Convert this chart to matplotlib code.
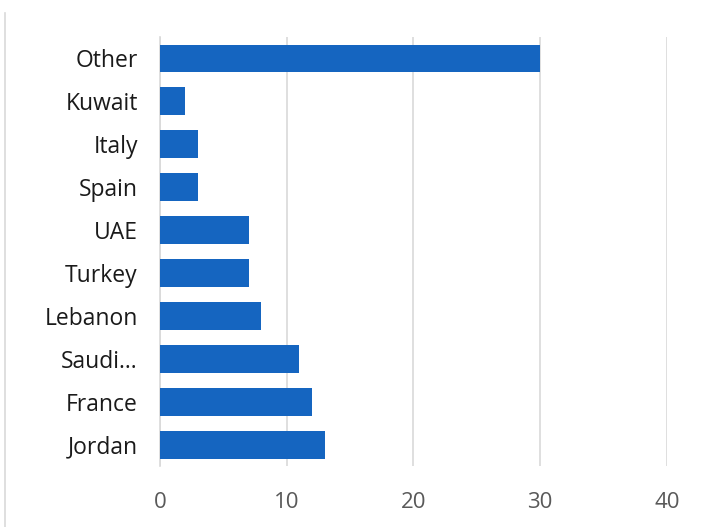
import matplotlib.pyplot as plt
from matplotlib.lines import Line2D

countries = ["Jordan", "France", "Saudi…", "Lebanon", "Turkey", "UAE", "Spain", "Italy", "Kuwait", "Other"]
values = [13, 12, 11, 8, 7, 7, 3, 3, 2, 30]
xticks = [0, 10, 20, 30, 40]

plt.rcParams['font.family'] = ['Open Sans', 'DejaVu Sans']

fig = plt.figure(figsize=(7.07, 5.27), dpi=100)
ax = fig.add_axes([0.2263, 0.1157, 0.7171, 0.8141])

ax.barh(countries, values, height=0.65, color='#1565c0', zorder=3)
ax.set_xlim(0, 40)
ax.set_ylim(-0.5, len(countries) - 0.5)
ax.set_xticks(xticks)

ax.grid(axis='x', color='#d9d9d9', linewidth=1.2, zorder=0)
for s in ['top', 'right', 'bottom']:
    ax.spines[s].set_visible(False)
ax.spines['left'].set_color('#d9d9d9')
ax.spines['left'].set_linewidth(1.2)
ax.tick_params(axis='both', length=0)
ax.tick_params(axis='y', labelsize=16.5, labelcolor='#1a1a1a', pad=16)
ax.tick_params(axis='x', labelsize=16, labelcolor='#595959', pad=19)

# outer chart border on the left
fig.add_artist(Line2D([0.007, 0.007], [0, 0.975], color='#d9d9d9', linewidth=1.2))

fig.savefig("out.png", dpi=100)
